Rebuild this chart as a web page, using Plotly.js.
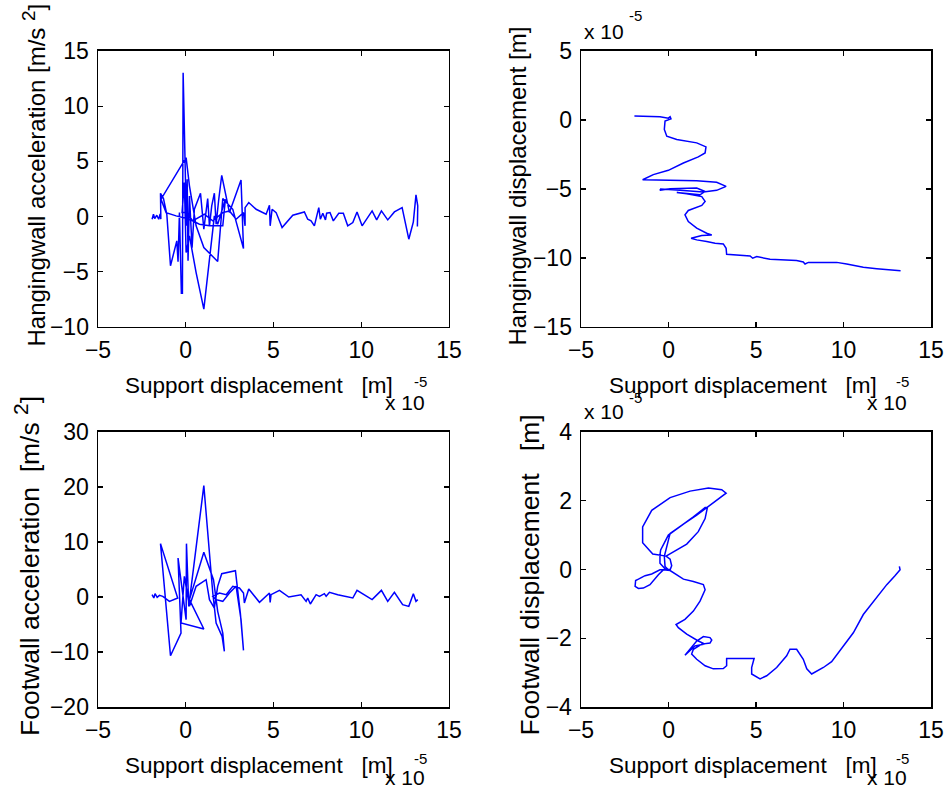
<!DOCTYPE html>
<html>
<head>
<meta charset="utf-8">
<script src="https://cdn.plot.ly/plotly-3.0.1.min.js"></script>
<style>html,body{margin:0;padding:0;background:#fff;}#chart{width:948px;height:789px;}</style>
</head>
<body>
<div id="chart"></div>
<script>
// Support displacement in units of 1e-5 m
// Panel 1: Hangingwall acceleration vs support displacement
const hwAccX = [-1.92,-1.84,-1.77,-1.65,-1.54,-1.46,-1.42,-1.44,-1.27,-1.08,-0.87,-0.51,-0.44,-0.36,-0.25,-0.19,-0.15,-0.04,0.04,0.08,0.13,0.21,0.36,0.49,0.84,1.03,1.16,1.25,1.35,1.48,1.63,1.73,1.88,2.05,2.49,3.15,3.29,2.68,2.11,1.82,1.03,0.59,0.21,0.02,-1.41,-1.12,-0.55,0.21,0.78,1.35,2.11,2.26,1.82,1.63,1.03,0.59,0.21,0.02,-0.08,-0.21,0.06,0.40,1.06,1.54,2.11,2.49,2.87,3.29,3.38,3.38,3.59,4.01,4.58,4.77,4.81,4.92,5.15,5.49,6.10,6.76,6.95,7.14,7.33,7.58,7.67,7.81,7.96,8.03,8.22,8.41,8.72,8.98,9.23,9.52,9.76,10.05,10.62,10.88,11.15,11.51,11.89,12.33,12.71,12.97,13.12,13.22,13.20];
const hwAccY = [-0.24,0.21,-0.18,0.12,-0.24,0.24,-0.24,2.11,1.63,0.21,-4.46,-2.20,-4.10,0.36,-6.94,-6.94,13.03,6.40,-0.84,3.38,-4.01,1.87,-2.81,0.66,2.11,-1.15,0.36,1.63,-0.84,0.97,2.11,-0.69,1.57,3.74,0.36,3.32,-2.90,0.66,1.63,-4.07,-2.81,-0.84,2.78,5.34,1.57,0.36,0.06,-0.24,-0.69,-0.84,-0.84,1.57,-0.69,0.06,-8.39,-5.07,-1.75,-3.26,3.08,0.36,0.36,-0.39,0.21,-0.39,0.36,0.51,-0.24,0.36,-0.84,0.81,1.27,0.66,0.21,1.03,-0.84,0.66,0.36,-1.00,0.12,0.42,-0.24,-0.39,-0.84,0.81,-0.24,0.30,-0.30,0.30,0.36,-0.39,0.30,0.30,-0.84,-0.54,0.42,-0.84,0.51,-0.30,0.51,-0.30,0.42,0.81,-2.05,-0.48,1.96,0.97,-0.90];

// Panel 2: Hangingwall displacement (1e-5 m) vs support displacement
const hwDispX = [-1.95,-1.25,-0.49,-0.01,0.09,0.14,-0.07,-0.20,-0.24,-0.10,0.47,1.61,2.14,2.09,1.70,0.85,-0.01,-0.87,-1.48,0.09,1.61,2.75,3.29,2.75,1.99,0.66,-0.45,-0.49,0.09,1.61,2.09,1.80,0.47,1.04,1.90,2.09,1.90,1.51,1.13,0.94,1.13,1.61,2.18,2.47,1.90,1.29,1.61,2.18,2.66,3.13,3.29,3.32,3.90,4.66,4.81,5.04,5.80,6.56,7.32,7.70,7.80,7.99,8.85,9.61,10.18,11.13,11.90,12.66,13.26];
const hwDispY = [0.28,0.23,0.23,0.13,0.23,0.08,-0.01,-0.08,-0.69,-1.18,-1.42,-1.66,-1.95,-2.39,-2.68,-3.12,-3.65,-3.96,-4.33,-4.38,-4.40,-4.52,-4.81,-5.10,-5.22,-5.10,-5.01,-5.10,-4.98,-4.93,-5.18,-5.42,-5.25,-5.35,-5.55,-5.90,-6.19,-6.39,-6.56,-6.87,-7.36,-7.84,-8.21,-8.33,-8.38,-8.57,-8.69,-8.81,-8.93,-8.98,-9.30,-9.73,-9.78,-9.85,-10.02,-9.90,-10.10,-10.15,-10.19,-10.29,-10.44,-10.32,-10.32,-10.32,-10.44,-10.68,-10.78,-10.83,-10.92];

// Panel 3: Footwall acceleration vs support displacement
const fwAccX = [-1.92,-1.82,-1.75,-1.63,-1.50,-1.31,-0.93,-0.46,-1.44,-0.87,-0.27,-0.44,0.02,0.04,0.17,1.03,1.54,1.73,2.07,2.20,2.11,1.82,1.58,1.03,0.21,1.03,-0.27,-0.08,0.21,0.59,1.16,1.35,1.63,1.82,2.05,2.83,3.11,3.29,3.15,2.87,2.49,2.11,1.73,1.54,1.92,2.30,2.68,3.06,3.29,3.34,3.59,4.20,4.77,4.81,4.86,5.34,5.87,6.57,6.86,6.95,7.10,7.43,7.62,7.90,8.00,8.19,8.66,9.52,9.76,10.62,11.15,11.51,11.89,12.36,12.71,12.97,13.12,13.22];
const fwAccY = [0.42,-0.18,0.61,-0.06,0.30,0.12,-0.79,-0.18,9.70,-10.67,-6.55,7.09,-4.12,9.70,-1.70,20.24,0.73,-4.73,-7.15,-9.88,-6.55,-2.61,3.15,8.12,-0.48,-5.82,-4.73,3.76,-1.70,1.94,3.15,-0.48,-2.00,1.94,4.24,4.79,-2.91,-9.70,-4.12,1.94,0.73,-0.79,-0.48,0.12,0.73,0.42,1.94,1.64,0.73,-1.09,1.45,-0.97,0.73,-0.97,0.42,1.21,0.00,0.42,-0.79,-0.18,-1.27,0.42,0.12,0.61,0.12,0.85,0.42,-0.18,1.21,-0.48,1.21,-0.79,0.85,-1.39,-1.70,0.61,-0.79,-0.48];

// Panel 4: Footwall displacement (1e-5 m) vs support displacement
const fwDispX = [-0.14,1.04,1.70,2.09,2.22,2.09,1.42,0.66,-0.01,-0.45,-0.49,-0.49,-0.20,0.09,0.18,0.09,-0.14,-0.90,-1.48,-1.48,-0.96,0.09,1.23,2.28,3.04,3.29,2.75,2.18,1.61,0.85,0.09,-0.24,-0.20,-0.01,-0.49,-0.96,-1.34,-1.72,-1.88,-1.91,-1.72,-1.44,-1.06,-0.58,-0.30,0.09,0.47,0.85,1.42,1.99,2.09,1.80,1.42,0.94,0.43,0.56,1.04,1.70,2.09,1.51,0.94,1.23,1.61,1.99,2.37,2.47,2.37,1.90,1.42,1.32,1.61,2.09,2.56,3.13,3.32,3.32,4.28,4.89,4.75,4.75,5.23,5.61,6.18,6.75,6.94,7.32,7.70,7.90,8.18,8.85,9.32,9.99,10.56,11.13,11.80,12.47,12.94,13.23,13.19];
const fwDispY = [0.39,0.74,1.10,1.48,1.80,1.80,1.53,1.26,1.00,0.57,0.42,0.18,0.02,-0.01,0.11,0.30,0.39,0.45,0.78,1.24,1.72,2.09,2.28,2.37,2.32,2.22,2.01,1.80,1.58,1.32,1.05,0.38,0.09,-0.01,-0.01,-0.13,-0.18,-0.28,-0.32,-0.49,-0.55,-0.54,-0.44,-0.15,-0.01,-0.03,-0.15,-0.28,-0.35,-0.44,-0.59,-0.92,-1.21,-1.45,-1.60,-1.69,-1.88,-2.08,-2.17,-2.22,-2.49,-2.32,-2.08,-1.95,-1.98,-2.05,-2.14,-2.17,-2.32,-2.46,-2.61,-2.80,-2.89,-2.88,-2.80,-2.59,-2.59,-2.59,-2.85,-3.04,-3.18,-3.09,-2.85,-2.51,-2.32,-2.32,-2.61,-2.89,-3.04,-2.85,-2.68,-2.22,-1.84,-1.31,-0.88,-0.44,-0.18,-0.01,0.09];

const NB = '\u00A0';
const SUP2 = '<sup><span style="font-size:19px">2</span></sup>';
const SUP2B = '<sup><span style="font-size:21px">2</span></sup>';
const xTitle = 'Support displacement' + NB.repeat(3) + '[m]';
const yTitles = ['Hangingwall acceleration [m/s' + NB + SUP2 + ']',
                 'Hangingwall displacement [m]',
                 'Footwall acceleration' + NB.repeat(2) + '[m/s' + NB + SUP2B + ']',
                 'Footwall displacement' + NB.repeat(3) + '[m]'];

const FONT = 'Liberation Sans, Arial, Helvetica, sans-serif';
const FS = 22.5;   // horizontal titles
const TFS = 23;    // tick labels
const lineStyle = {color: '#0000ff', width: 1.5};

const traces = [
  {x: hwAccX, y: hwAccY, xaxis: 'x', yaxis: 'y'},
  {x: hwDispX, y: hwDispY, xaxis: 'x2', yaxis: 'y2'},
  {x: fwAccX, y: fwAccY, xaxis: 'x3', yaxis: 'y3'},
  {x: fwDispX, y: fwDispY, xaxis: 'x4', yaxis: 'y4'}
].map(t => Object.assign(t, {type: 'scatter', mode: 'lines', line: lineStyle, showlegend: false, hoverinfo: 'skip'}));

function ax(extra) {
  return Object.assign({
    showline: true, linecolor: '#000', linewidth: 1.5, mirror: 'ticks',
    ticks: 'inside', ticklen: 5, tickwidth: 1.2, tickcolor: '#000',
    showgrid: false, zeroline: false, automargin: false,
    tickfont: {family: FONT, size: TFS, color: '#000'}
  }, extra);
}
const XL = [0.1034, 0.4736], XR = [0.6129, 0.9821];
const YT = [0.5856, 0.9354], YB = [0.1039, 0.4525];
function xa(dom, anchor) {
  return ax({domain: dom, anchor: anchor, range: [-5, 15], tickvals: [-5, 0, 5, 10, 15],
    ticklabelstandoff: 2});
}
function ya(dom, anchor, range, dt) {
  return ax({domain: dom, anchor: anchor, range: range, dtick: dt, tick0: 0,
    ticklabelstandoff: 3});
}

function P(px, py) { return [px / 948, 1 - py / 789]; }
const ann = [];
// x-axis titles (left edge x, centre y in pixels)
[[123, 385], [607, 385], [123, 765], [607, 765]].forEach(a => {
  const p = P(a[0], a[1]);
  ann.push({xref: 'paper', yref: 'paper', x: p[0], y: p[1], text: xTitle, showarrow: false,
    xanchor: 'left', yanchor: 'middle', font: {family: FONT, size: FS, color: '#000'}});
});
// y-axis titles (centre x, bottom y = start of text, font size)
[[33, 349, 24], [517, 348, 24], [27, 738, 26.5], [529, 738, 26.5]].forEach((a, i) => {
  const p = P(a[0], a[1]);
  ann.push({xref: 'paper', yref: 'paper', x: p[0], y: p[1], text: yTitles[i], showarrow: false,
    textangle: -90, xanchor: 'center', yanchor: 'bottom', font: {family: FONT, size: a[2], color: '#000'}});
});
// exponent labels "x 10^-5"
[[383, 403, 412, 381], [865, 403, 894, 381], [383, 777, 412, 758], [865, 777, 894, 758],
 [582, 31, 627, 16], [582, 412, 627, 397]].forEach(a => {
  const p1 = P(a[0], a[1]), p2 = P(a[2], a[3]);
  ann.push({xref: 'paper', yref: 'paper', x: p1[0], y: p1[1], text: 'x 10', showarrow: false,
    xanchor: 'left', yanchor: 'middle', font: {family: FONT, size: 21, color: '#000'}});
  ann.push({xref: 'paper', yref: 'paper', x: p2[0], y: p2[1], text: '-5', showarrow: false,
    xanchor: 'left', yanchor: 'middle', font: {family: FONT, size: 15, color: '#000'}});
});

const layout = {
  width: 948, height: 789,
  margin: {l: 0, r: 0, t: 0, b: 0},
  paper_bgcolor: '#fff', plot_bgcolor: '#fff',
  font: {family: FONT, size: FS, color: '#000'},
  xaxis: xa(XL, 'y'), yaxis: ya(YT, 'x', [-10, 15], 5),
  xaxis2: xa(XR, 'y2'), yaxis2: ya(YT, 'x2', [-15, 5], 5),
  xaxis3: xa(XL, 'y3'), yaxis3: ya(YB, 'x3', [-20, 30], 10),
  xaxis4: xa(XR, 'y4'), yaxis4: ya(YB, 'x4', [-4, 4], 2),
  annotations: ann
};

Plotly.newPlot('chart', traces, layout, {staticPlot: true, displayModeBar: false});
</script>
</body>
</html>
